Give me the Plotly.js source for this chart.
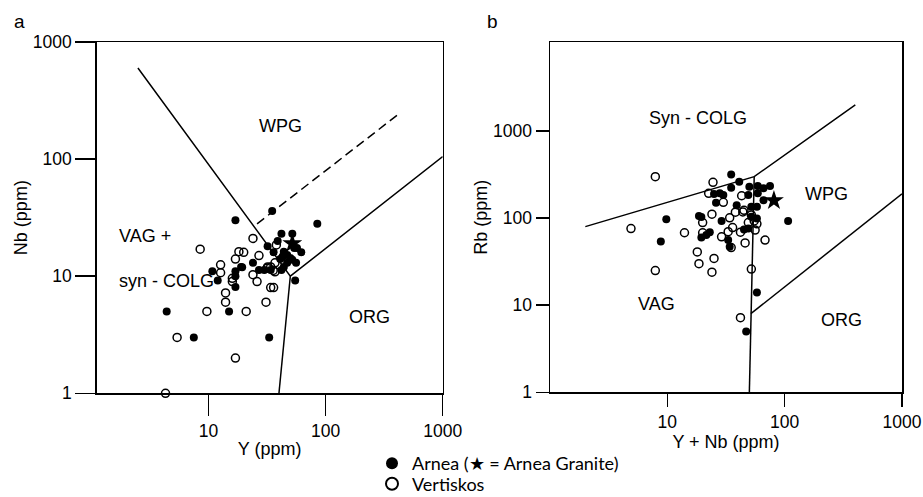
<!DOCTYPE html>
<html>
<head>
<meta charset="utf-8">
<script src="https://cdn.plot.ly/plotly-3.0.1.min.js"></script>
<style>html,body{margin:0;padding:0;background:#fff;overflow:hidden;}#chart{width:923px;height:497px;}</style>
</head>
<body>
<div id="chart"></div>
<script>
// ---------- Panel a : Nb vs Y ----------
const arneaA_Y  = [17, 35, 85, 42, 52, 32, 36, 62, 56, 55, 24, 19, 17, 17, 17, 10.8, 12, 27, 30, 34, 42, 43, 47, 50, 39, 54, 4.4, 15, 7.5, 33, 44, 47, 41, 52, 44, 57, 19.4];
const arneaA_Nb = [30, 36, 28, 23, 23, 18, 16, 16, 13, 9.2, 13, 12, 11, 10, 8.1, 11, 9.2, 11.3, 11.3, 11.3, 11.3, 14.7, 15.2, 14.3, 20, 17.4, 5, 5, 3, 3, 12, 13, 14, 13.8, 16.2, 17.4, 11.9];
const vertA_Y  = [24, 8.5, 20, 17, 27, 38, 12.7, 12.7, 16, 26, 24, 37, 32, 34, 34, 36, 14, 14, 31, 9.7, 21, 5.4, 17, 4.3, 31.7, 35.7, 37, 18.2, 16];
const vertA_Nb = [21, 17, 16, 14, 15, 18.5, 12.5, 10.7, 9, 9, 10.3, 13, 12, 12, 8, 8, 7.2, 6, 6, 5, 5, 3, 2, 1, 11.7, 11.2, 10.9, 16.2, 9.6];
const graniteA_Y = [52];
const graniteA_Nb = [19];

// boundaries panel a
const bndA1_Y = [2.5, 50, 1000];   // VAG+syn-COLG / WPG then WPG / ORG
const bndA1_Nb = [600, 10, 105];
const bndA2_Y = [50, 40];           // VAG / ORG
const bndA2_Nb = [10, 1];
const bndA3_Y = [26, 415];          // dashed ORG upper limit
const bndA3_Nb = [28, 240];

// ---------- Panel b : Rb vs Y+Nb ----------
const arneaB_YNb = [35, 41, 35, 25, 28, 30, 26, 50, 59, 66, 75, 49, 59, 66, 39, 52, 58, 107, 9.8, 8.8, 18.6, 29, 23, 21.5, 19.5, 33, 45, 58, 47, 52, 58, 19.5, 49, 34];
const arneaB_Rb  = [318, 262, 223, 190, 193, 185, 150, 229, 234, 220, 234, 184, 193, 161, 141, 135, 135, 93, 97, 54, 106, 93, 69, 64, 60, 56, 74, 14, 5, 104, 99, 103, 76, 47];
const vertB_YNb = [7.9, 24.5, 22.5, 43, 30, 38, 44, 52, 24, 20, 34, 49, 58, 36, 33, 56, 42, 4.9, 14, 20, 29, 35, 46, 68, 18, 18.6, 25, 24, 7.9, 52, 42, 55, 45];
const vertB_Rb  = [300, 258, 193, 181, 152, 117, 118, 109, 111, 89, 101, 89, 86, 78, 70, 73, 69, 76, 68, 68, 61, 46, 52, 56, 41, 30, 34.5, 24, 25, 26, 7.2, 93, 123];
const graniteB_YNb = [81];
const graniteB_Rb = [160];

// boundaries panel b
const bndB1_YNb = [2, 55, 400];      // syn-COLG / VAG & WPG
const bndB1_Rb = [80, 300, 2000];
const bndB2_YNb = [55, 51.5, 50];    // VAG / WPG / ORG
const bndB2_Rb = [300, 8, 1];
const bndB3_YNb = [51.5, 1000];      // WPG / ORG
const bndB3_Rb = [8, 190];

const W = 923, H = 497;
const px = v => v / W;
const py = v => 1 - v / H;

const lineStyle = {color: '#000', width: 1.5};
const filled = {symbol: 'circle', size: 8, color: '#000'};
const open = {symbol: 'circle-open', size: 8, color: '#000', line: {width: 1.5, color: '#000'}};
const star = {symbol: 'star', size: 15, color: '#000'};

const traces = [
  {x: bndA1_Y, y: bndA1_Nb, mode: 'lines', line: lineStyle, xaxis: 'x', yaxis: 'y', showlegend: false, hoverinfo: 'skip'},
  {x: bndA2_Y, y: bndA2_Nb, mode: 'lines', line: lineStyle, xaxis: 'x', yaxis: 'y', showlegend: false, hoverinfo: 'skip'},
  {x: bndA3_Y, y: bndA3_Nb, mode: 'lines', line: {color: '#000', width: 1.5, dash: '9px,5px'}, xaxis: 'x', yaxis: 'y', showlegend: false, hoverinfo: 'skip'},
  {x: bndB1_YNb, y: bndB1_Rb, mode: 'lines', line: lineStyle, xaxis: 'x2', yaxis: 'y2', showlegend: false, hoverinfo: 'skip'},
  {x: bndB2_YNb, y: bndB2_Rb, mode: 'lines', line: lineStyle, xaxis: 'x2', yaxis: 'y2', showlegend: false, hoverinfo: 'skip'},
  {x: bndB3_YNb, y: bndB3_Rb, mode: 'lines', line: lineStyle, xaxis: 'x2', yaxis: 'y2', showlegend: false, hoverinfo: 'skip'},

  {x: vertA_Y, y: vertA_Nb, mode: 'markers', marker: open, xaxis: 'x', yaxis: 'y', name: 'Vertiskos', legend: 'legend2', cliponaxis: false},
  {x: arneaA_Y, y: arneaA_Nb, mode: 'markers', marker: filled, xaxis: 'x', yaxis: 'y', name: 'Arnea (★ = Arnea Granite)', legend: 'legend'},
  {x: graniteA_Y, y: graniteA_Nb, mode: 'markers', marker: star, xaxis: 'x', yaxis: 'y', name: 'Arnea Granite', showlegend: false},

  {x: vertB_YNb, y: vertB_Rb, mode: 'markers', marker: open, xaxis: 'x2', yaxis: 'y2', name: 'Vertiskos', showlegend: false},
  {x: arneaB_YNb, y: arneaB_Rb, mode: 'markers', marker: filled, xaxis: 'x2', yaxis: 'y2', name: 'Arnea', showlegend: false},
  {x: graniteB_YNb, y: graniteB_Rb, mode: 'markers', marker: star, xaxis: 'x2', yaxis: 'y2', name: 'Arnea Granite', showlegend: false}
];

const FONT = 'Liberation Sans, Arial, Helvetica, sans-serif';
const tickFont = {family: FONT, size: 17.5, color: '#000'};
const titleFont = {family: FONT, size: 18, color: '#000'};
const legFont = {family: 'Lato, Open Sans, sans-serif', size: 18, color: '#000'};

function axis(extra) {
  return Object.assign({
    type: 'log', showgrid: false, zeroline: false,
    showline: true, linecolor: '#000', linewidth: 1.5, mirror: true,
    ticks: 'outside', tickcolor: '#000', tickwidth: 1.5,
    tickfont: tickFont, automargin: false, fixedrange: true
  }, extra);
}

const layout = {
  width: W, height: H,
  margin: {l: 0, r: 0, t: 0, b: 0, autoexpand: false},
  paper_bgcolor: '#fff', plot_bgcolor: '#fff',
  font: {family: FONT, color: '#000'},
  xaxis: axis({domain: [px(96.7), px(442.7)], range: [0.046, 3], tickvals: [10, 100, 1000], ticktext: ['10', '100', '1000'], ticklen: 21, anchor: 'y',
               title: {text: 'Y (ppm)', font: titleFont, standoff: 2}}),
  yaxis: axis({domain: [py(393.3), py(42)], range: [0, 3], tickvals: [1, 10, 100, 1000], ticktext: ['1', '10', '100', '1000'], ticklen: 20, anchor: 'x',
               title: {text: 'Nb (ppm)', font: titleFont, standoff: 0}}),
  xaxis2: axis({domain: [px(550), px(902)], range: [0, 3], tickvals: [10, 100, 1000], ticktext: ['10', '100', '1000'], ticklen: 13, anchor: 'y2',
               title: {text: 'Y + Nb (ppm)', font: titleFont, standoff: 2}}),
  yaxis2: axis({domain: [py(392.3), py(42.3)], range: [0, 4.02], tickvals: [1, 10, 100, 1000], ticktext: ['1', '10', '100', '1000'], ticklen: 13, anchor: 'x2',
               title: {text: 'Rb (ppm)', font: titleFont, standoff: 1}}),
  showlegend: true,
  legend: {x: px(372), y: py(463.5), xanchor: 'left', yanchor: 'middle', bgcolor: 'rgba(0,0,0,0)', font: legFont, itemsizing: 'constant'},
  legend2: {x: px(372), y: py(484), xanchor: 'left', yanchor: 'middle', bgcolor: 'rgba(0,0,0,0)', font: legFont, itemsizing: 'constant'},
  annotations: [
    {text: 'a', x: px(19), y: py(22), xref: 'paper', yref: 'paper', showarrow: false, xanchor: 'center', yanchor: 'middle', font: {family: FONT, size: 19}},
    {text: 'b', x: px(492), y: py(22), xref: 'paper', yref: 'paper', showarrow: false, xanchor: 'center', yanchor: 'middle', font: {family: FONT, size: 19}},
    {text: 'WPG', x: px(280), y: py(126), xref: 'paper', yref: 'paper', showarrow: false, xanchor: 'center', yanchor: 'middle', font: {family: FONT, size: 18}},
    {text: 'VAG +', x: px(117), y: py(236), xref: 'paper', yref: 'paper', showarrow: false, xanchor: 'left', yanchor: 'middle', font: {family: FONT, size: 18}},
    {text: 'syn - COLG', x: px(117), y: py(281), xref: 'paper', yref: 'paper', showarrow: false, xanchor: 'left', yanchor: 'middle', font: {family: FONT, size: 18}},
    {text: 'ORG', x: px(369), y: py(317), xref: 'paper', yref: 'paper', showarrow: false, xanchor: 'center', yanchor: 'middle', font: {family: FONT, size: 18}},
    {text: 'Syn - COLG', x: px(698), y: py(118), xref: 'paper', yref: 'paper', showarrow: false, xanchor: 'center', yanchor: 'middle', font: {family: FONT, size: 18}},
    {text: 'WPG', x: px(826), y: py(194), xref: 'paper', yref: 'paper', showarrow: false, xanchor: 'center', yanchor: 'middle', font: {family: FONT, size: 18}},
    {text: 'VAG', x: px(656), y: py(304), xref: 'paper', yref: 'paper', showarrow: false, xanchor: 'center', yanchor: 'middle', font: {family: FONT, size: 18}},
    {text: 'ORG', x: px(841), y: py(320), xref: 'paper', yref: 'paper', showarrow: false, xanchor: 'center', yanchor: 'middle', font: {family: FONT, size: 18}}
  ]
};

Plotly.newPlot('chart', traces, layout, {displayModeBar: false, staticPlot: true});
</script>
</body>
</html>
